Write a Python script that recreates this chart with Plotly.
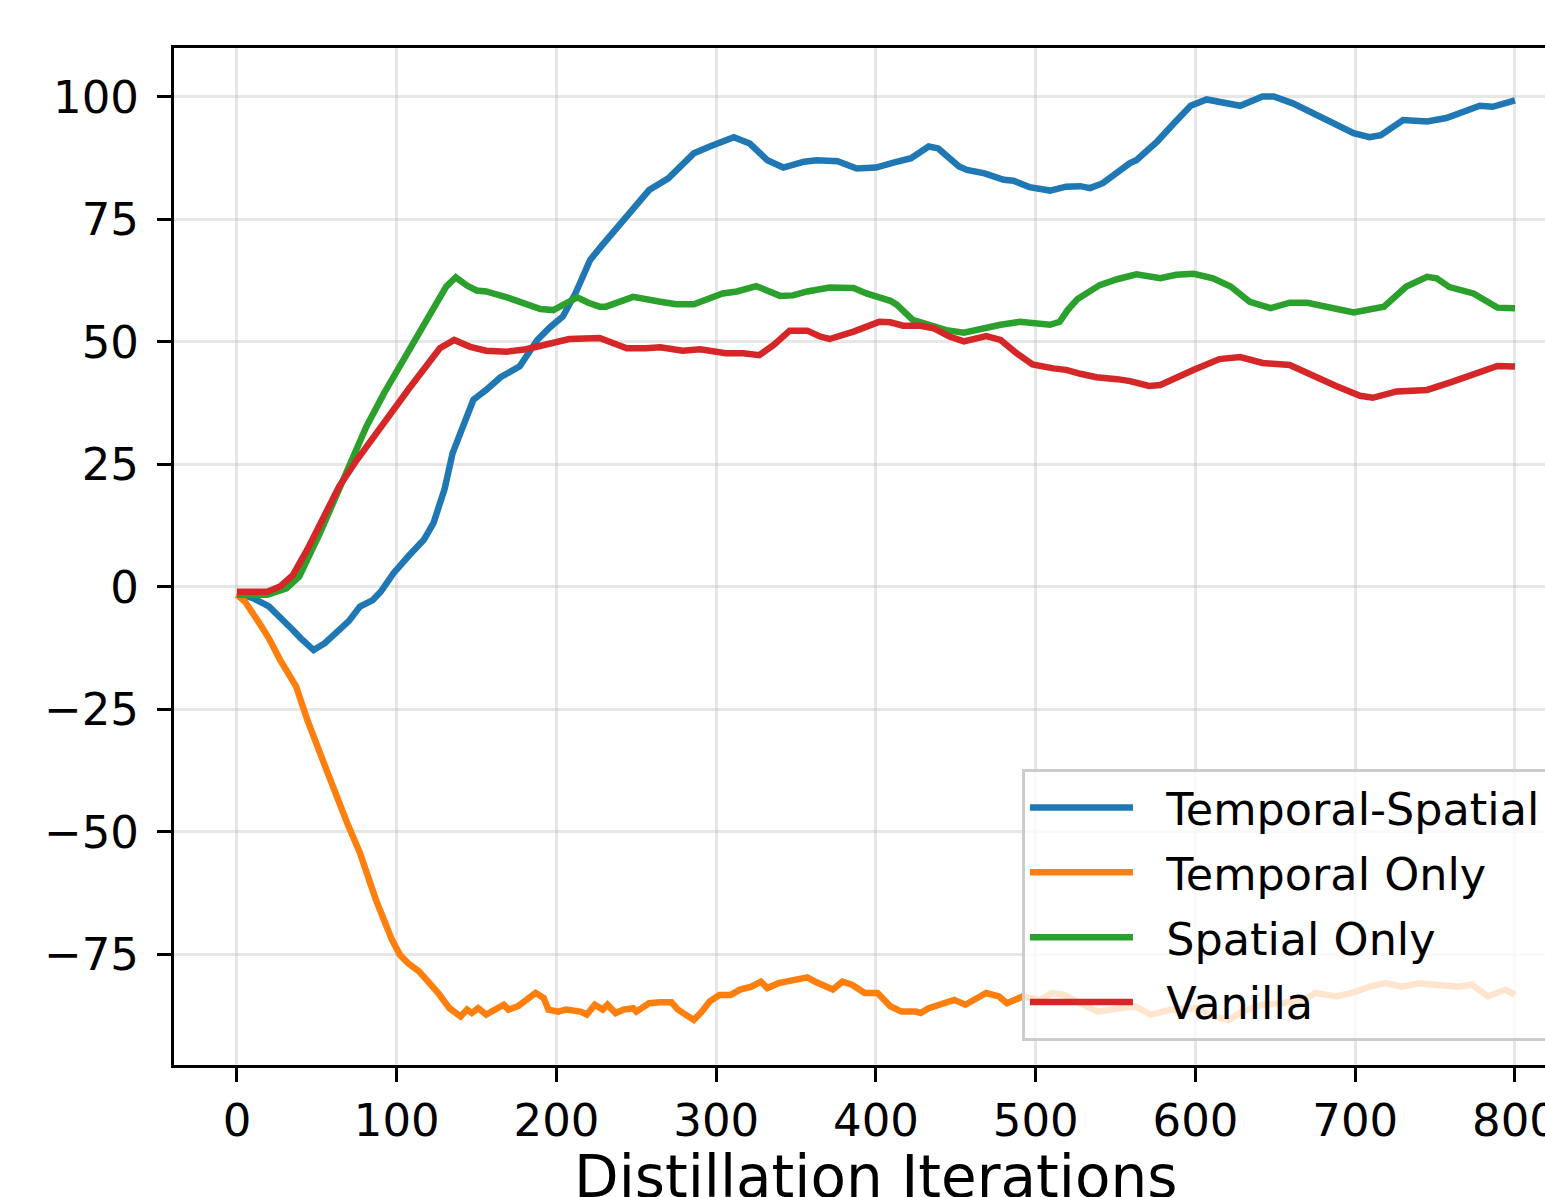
import plotly.graph_objects as go

# ---------------- data ----------------
ts_x = [0, 10, 20, 30, 35, 40, 48, 55, 60, 70, 77, 85, 90, 98, 108, 117, 123, 130, 135, 142, 148, 156, 165, 177,
        188, 196, 204, 212, 221, 228, 242, 250, 258, 270, 278, 286, 296, 304, 311, 321, 332, 342, 355, 363, 376,
        388, 400, 411, 422, 433, 439, 452, 457, 468, 480, 486, 496, 509, 519, 528, 534, 542, 550, 559, 563, 576,
        587, 597, 607, 617, 628, 642, 649, 661, 678, 690, 699, 709, 716, 730, 745, 757, 768, 778, 786, 795, 800]
ts_y = [-1.3, -2.3, -4, -7, -8.8, -10.5, -12.9, -11.5, -10.1, -7, -4, -2.7, -1, 2.8, 6.5, 9.6, 13, 20, 27.3, 33,
        38.2, 40.2, 42.8, 45, 50.4, 53, 55.2, 60, 66.7, 69.5, 74.9, 78, 81, 83.4, 86, 88.5, 89.9, 91, 91.8, 90.5,
        87.1, 85.6, 86.8, 87.1, 86.9, 85.4, 85.6, 86.6, 87.5, 89.9, 89.5, 85.8, 85.1, 84.4, 83.1, 82.9, 81.6, 80.9,
        81.7, 81.8, 81.4, 82.4, 84.5, 86.5, 87.1, 90.9, 94.8, 98.2, 99.5, 98.8, 98.2, 100.1, 100.1, 98.7, 96,
        94.3, 92.6, 91.8, 92.2, 95.3, 95, 95.7, 97, 98.2, 98, 99, 99.3]

t_x = [0, 5, 14, 20, 27, 37, 44, 50, 56, 69, 77, 87, 97, 102, 107, 114, 119, 126, 133, 140, 144, 147, 151, 156,
       167, 170, 176, 181, 187, 192, 195, 201, 206, 215, 219, 224, 229, 232, 237, 242, 248, 250, 258, 265, 272,
       276, 282, 286, 291, 296, 302, 309, 315, 322, 328, 332, 339, 349, 357, 362, 373, 379, 385, 393, 401, 409,
       416, 425, 428, 433, 441, 449, 456, 469, 477, 482, 492, 503, 510, 518, 528, 539, 552, 562, 572, 585, 601,
       611, 621, 629, 642, 655, 670, 675, 688, 698, 709, 719, 729, 740, 750, 765, 773, 783, 794, 800]
t_y = [-1.6, -3, -7.4, -10.5, -14.9, -20.3, -27.1, -32.6, -37.3, -48.2, -54.3, -63.9, -72, -75.1, -76.8, -78.5,
       -80.2, -82.9, -86, -87.7, -86.3, -87, -86, -87.3, -85.3, -86.3, -85.6, -84.3, -82.9, -83.9, -86.3, -86.7,
       -86.3, -86.7, -87.3, -85.3, -86.3, -85.3, -87, -86.3, -86, -86.7, -85, -84.8, -84.8, -86.3, -87.7, -88.4,
       -86.7, -84.6, -83.3, -83.3, -82.2, -81.6, -80.6, -81.9, -80.9, -80.2, -79.7, -80.6, -82.2, -80.6, -81.2,
       -82.9, -82.9, -85.6, -86.7, -86.7, -87, -86, -85.3, -84.3, -85.3, -82.9, -83.6, -85, -83.6, -84.3, -82.9,
       -83.3, -85, -86.7, -86, -85.6, -87.3, -86.3, -86, -87.7, -88.4, -86.7, -85.3, -85, -83.9, -82.9, -83.6,
       -82.9, -81.6, -80.9, -81.6, -80.9, -81.2, -81.6, -81.2, -83.6, -82.2, -83.3]

s_x = [0, 10, 19, 31, 39, 52, 62, 71, 81, 92, 102, 112, 125, 131, 137, 144, 150, 156, 169, 177, 190, 198, 206,
       213, 220, 227, 231, 240, 248, 265, 275, 286, 294, 304, 313, 325, 340, 348, 357, 371, 386, 394, 409, 413,
       423, 434, 444, 455, 467, 478, 490, 499, 509, 515, 520, 526, 540, 551, 563, 578, 588, 599, 611, 622, 634,
       647, 659, 670, 680, 699, 718, 732, 745, 751, 759, 774, 789, 800]
s_y = [-1.6, -1.6, -1.6, -0.3, 2.1, 11, 18.5, 25.2, 32.7, 39.5, 45, 50.4, 57.9, 61.3, 63.2, 61.5, 60.5, 60.3,
       59.1, 58.2, 56.7, 56.5, 57.9, 59.1, 58, 57.2, 57.2, 58.4, 59.2, 58.2, 57.7, 57.7, 58.6, 59.9, 60.3, 61.4,
       59.4, 59.5, 60.3, 61.1, 61, 59.9, 58.4, 57.6, 54.5, 53.5, 52.4, 51.9, 52.8, 53.5, 54.1, 53.8, 53.5, 54.1,
       56.5, 58.7, 61.6, 62.8, 63.8, 63, 63.7, 63.9, 63, 61.3, 58.2, 56.9, 58, 58, 57.2, 56, 57.2, 61.3, 63.3, 63,
       61.2, 59.9, 57, 56.9]

v_x = [0, 19, 27, 35, 44, 52, 64, 75, 87, 98, 108, 119, 127, 136, 146, 156, 169, 181, 192, 208, 227, 244, 256,
       265, 279, 290, 306, 317, 327, 336, 346, 357, 365, 371, 386, 394, 402, 409, 417, 428, 436, 446, 455, 469,
       478, 488, 498, 511, 519, 528, 538, 551, 559, 571, 578, 599, 615, 628, 642, 659, 674, 688, 703, 711, 726,
       745, 761, 778, 789, 800]
v_y = [-1, -1, 0.1, 2.4, 7.6, 13, 20.5, 25.9, 31.4, 36.1, 40.6, 45.3, 48.7, 50.4, 49, 48.2, 48, 48.5, 49.4, 50.6,
       50.8, 48.7, 48.7, 48.9, 48.2, 48.5, 47.7, 47.7, 47.3, 49.4, 52.3, 52.3, 51.1, 50.6, 52.1, 53.1, 54.1, 54,
       53.3, 53.3, 52.8, 51.1, 50.1, 51.2, 50.4, 47.7, 45.4, 44.6, 44.3, 43.5, 42.8, 42.4, 42, 41, 41.2, 44.3,
       46.5, 46.9, 45.7, 45.3, 42.9, 41, 39, 38.6, 39.9, 40.2, 41.9, 43.9, 45.1, 45]

series_names = ["Temporal-Spatial", "Temporal Only", "Spatial Only", "Vanilla"]
series_colors = ["#1f77b4", "#ff7f0e", "#2ca02c", "#d62728"]
x_ticks = [0, 100, 200, 300, 400, 500, 600, 700, 800]
y_ticks = [-75, -50, -25, 0, 25, 50, 75, 100]
x_title = "Distillation Iterations"

# ---------------- figure ----------------
FONT = "DejaVu Sans"
PAD = "\u00a0\u00a0"  # visual gap between legend line sample and label
fig = go.Figure()
for name, color, xs, ys in zip(series_names, series_colors,
                               [ts_x, t_x, s_x, v_x], [ts_y, t_y, s_y, v_y]):
    fig.add_trace(go.Scatter(x=xs, y=ys, mode="lines", name=PAD + name, legendgroup=name,
                             line=dict(color=color, width=6.5)))

axis_common = dict(
    showline=True, linecolor="black", linewidth=3, mirror=True,
    ticks="outside", ticklen=14, tickwidth=2.5, tickcolor="black",
    showgrid=True, gridcolor="rgba(176,176,176,0.3)", gridwidth=3,
    zeroline=False, tickfont=dict(family=FONT, size=45, color="black"),
    ticklabeloverflow="allow", automargin=False,
)

fig.update_layout(
    width=1545, height=1197,
    margin=dict(l=174, r=0, t=48, b=132, autoexpand=False),
    paper_bgcolor="white", plot_bgcolor="white",
    font=dict(family=FONT, color="black"),
    xaxis=dict(range=[-39.4, 818.8], tickvals=x_ticks, ticklabelstandoff=0, **axis_common),
    yaxis=dict(range=[-97.6, 110], tickvals=y_ticks,
               ticktext=[("\u2212" + str(-v)) if v < 0 else str(v) for v in y_ticks],
               ticklabelstandoff=9, **axis_common),
    legend=dict(x=0.6185, y=0.291, xanchor="left", yanchor="top",
                bgcolor="rgba(255,255,255,0.8)", bordercolor="#cccccc", borderwidth=3,
                font=dict(family=FONT, size=44.5, color="black"),
                tracegroupgap=4, itemwidth=103),
    showlegend=True,
)
fig.add_annotation(x=400, xref="x", y=0, yref="paper", yshift=-76, yanchor="top",
                   text=x_title, showarrow=False,
                   font=dict(family=FONT, size=58, color="black"))

fig.write_html("out.html")
